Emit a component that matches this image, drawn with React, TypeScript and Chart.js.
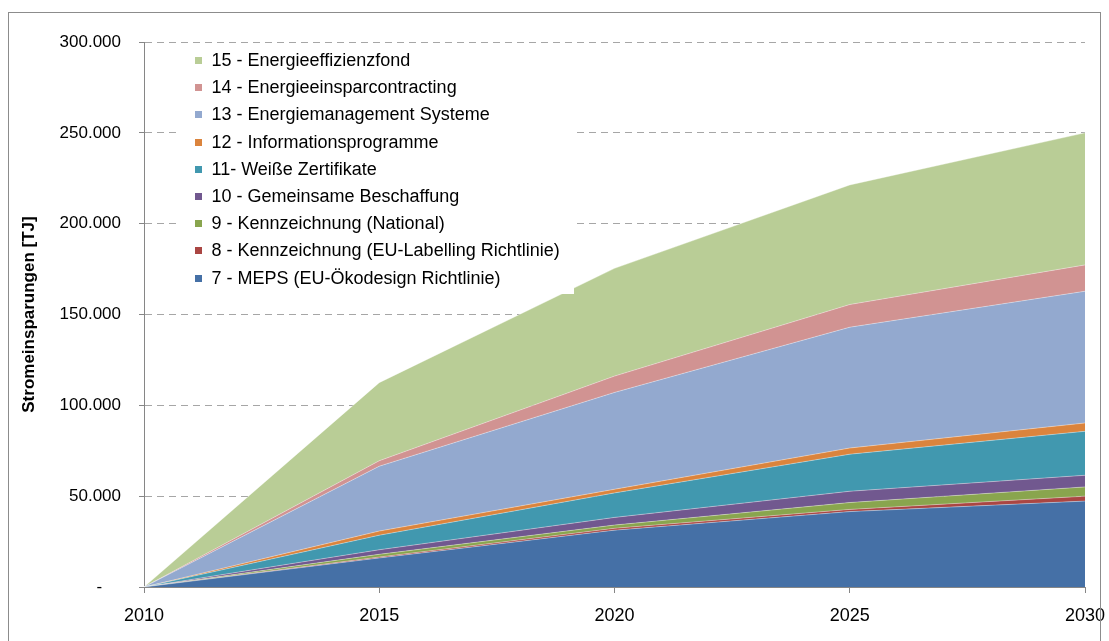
import React, { useEffect, useRef } from "react";
import { Chart, registerables } from "chart.js";

Chart.register(...registerables);

const years = [2010, 2015, 2020, 2025, 2030];
const xTicks = [2010, 2015, 2020, 2025, 2030];
const yTicks = [0, 50000, 100000, 150000, 200000, 250000, 300000];

const meps7 = [0, 16000, 31300, 41500, 47300];
const labelling8 = [0, 500, 1000, 1200, 2700];
const national9 = [0, 1500, 1800, 3800, 5100];
const beschaffung10 = [0, 2500, 4200, 6200, 6400];
const zertifikate11 = [0, 8000, 13500, 20400, 24200];
const information12 = [0, 2300, 2000, 3400, 4600];
const management13 = [0, 35700, 53300, 66500, 72500];
const contracting14 = [0, 3000, 9000, 12500, 14500];
const fond15 = [0, 43000, 59300, 65800, 72700];

const seriesNames = [
  "7 - MEPS (EU-Ökodesign Richtlinie)",
  "8 - Kennzeichnung (EU-Labelling Richtlinie)",
  "9 - Kennzeichnung (National)",
  "10 - Gemeinsame Beschaffung",
  "11- Weiße Zertifikate",
  "12 - Informationsprogramme",
  "13 - Energiemanagement Systeme",
  "14 - Energieeinsparcontracting",
  "15 - Energieeffizienzfond",
];
const seriesValues = [
  meps7,
  labelling8,
  national9,
  beschaffung10,
  zertifikate11,
  information12,
  management13,
  contracting14,
  fond15,
];
const seriesColors = [
  "#4570A6",
  "#AA4643",
  "#89A54E",
  "#71588F",
  "#4198AF",
  "#DB843D",
  "#93A9CF",
  "#D19392",
  "#B9CD96",
];

const FONT = "'Liberation Sans', Arial, sans-serif";

const fmt = (v: number) =>
  v === 0 ? "-    " : String(v).replace(/\B(?=(\d{3})+(?!\d))/g, ".");

const insideLegend = {
  id: "insideLegend",
  afterDatasetsDraw(chart: any) {
    const ctx = chart.ctx;
    ctx.save();
    ctx.fillStyle = "#ffffff";
    ctx.fillRect(167, 31, 398, 250);
    ctx.font = `18px ${FONT}`;
    ctx.textBaseline = "middle";
    ctx.textAlign = "left";
    const ds = chart.data.datasets;
    for (let k = 0; k < ds.length; k++) {
      const d = ds[ds.length - 1 - k];
      const cy = 47.5 + k * 27.2;
      ctx.fillStyle = d.backgroundColor;
      ctx.fillRect(186, Math.round(cy - 3.5), 7, 7);
      ctx.fillStyle = "#000000";
      ctx.fillText(d.label, 202.5, cy + 0.5);
    }
    ctx.restore();
  },
};

export default function App() {
  const ref = useRef<HTMLCanvasElement | null>(null);

  useEffect(() => {
    if (!ref.current) return;
    const datasets = seriesNames.map((name, i) => ({
      label: name,
      data: years.map((y, j) => ({ x: y, y: seriesValues[i][j] })),
      backgroundColor: seriesColors[i],
      borderColor: "rgba(255,255,255,0.35)",
      borderWidth: 1,
      pointRadius: 0,
      tension: 0,
      fill: i === 0 ? "origin" : "-1",
    }));
    const chart = new Chart(ref.current, {
      type: "line",
      data: { datasets },
      plugins: [insideLegend],
      options: {
        animation: false,
        responsive: false,
        maintainAspectRatio: false,
        devicePixelRatio: 1,
        layout: { padding: { top: 29, right: 24, left: 0, bottom: 0 } },
        plugins: {
          legend: { display: false },
          tooltip: { enabled: false },
        },
        scales: {
          x: {
            type: "linear",
            min: 2010,
            max: 2030,
            afterFit: (s: any) => {
              s.height = 54;
              s.paddingLeft = 0;
              s.paddingRight = 0;
            },
            afterBuildTicks: (s: any) => {
              s.ticks = xTicks.map((v) => ({ value: v }));
            },
            ticks: {
              color: "#000000",
              font: { family: FONT, size: 18 },
              padding: 12,
              maxRotation: 0,
              autoSkip: false,
              callback: (v: any) => String(v),
            },
            grid: {
              drawOnChartArea: false,
              drawTicks: true,
              tickLength: 6,
              color: "#868686",
            },
            border: { color: "#868686", width: 1 },
          },
          y: {
            type: "linear",
            stacked: true,
            min: 0,
            max: 300000,
            afterFit: (s: any) => {
              s.width = 135;
              s.paddingTop = 0;
              s.paddingBottom = 0;
            },
            afterBuildTicks: (s: any) => {
              s.ticks = yTicks.map((v) => ({ value: v }));
            },
            ticks: {
              color: "#000000",
              font: { family: FONT, size: 17 },
              padding: 18,
              autoSkip: false,
              callback: (v: any) => fmt(Number(v)),
            },
            grid: {
              color: "#a6a6a6",
              tickColor: "#868686",
              tickLength: 5,
              lineWidth: 1,
            },
            border: { color: "#868686", width: 1, dash: [7, 5] },
            title: {
              display: true,
              text: "Stromeinsparungen [TJ]",
              color: "#000000",
              font: { family: FONT, size: 17, weight: "bold" },
              padding: { top: 10, bottom: 0 },
            },
          },
        },
      },
    });
    return () => chart.destroy();
  }, []);

  return (
    <div style={{ position: "absolute", left: 0, top: 0, width: 1109, height: 641, overflow: "hidden", background: "#ffffff" }}>
      <canvas
        ref={ref}
        width={1100}
        height={628}
        style={{ position: "absolute", left: 9, top: 13, display: "block" }}
      />
      <div
        style={{
          position: "absolute",
          left: 8,
          top: 12,
          width: 1091,
          height: 629,
          borderTop: "1px solid #8c8c8c",
          borderLeft: "1px solid #8c8c8c",
          borderRight: "1px solid #8c8c8c",
          pointerEvents: "none",
        }}
      />
    </div>
  );
}
